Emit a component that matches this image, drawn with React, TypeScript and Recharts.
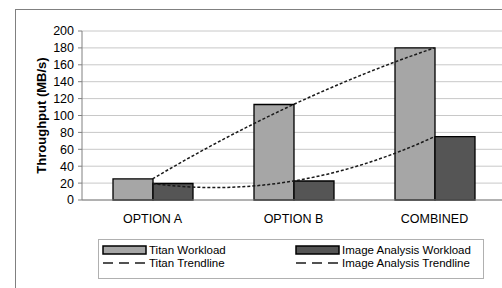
import { BarChart, Bar, Line, XAxis, YAxis, CartesianGrid } from "recharts";

const categories = ["OPTION A", "OPTION B", "COMBINED"];
const titanWorkload = [25, 113, 180];
const imageWorkload = [19.5, 22.5, 75];
const yTicks = [0, 20, 40, 60, 80, 100, 120, 140, 160, 180, 200];

const data = categories.map((name, i) => ({
  name,
  titan: titanWorkload[i],
  image: imageWorkload[i],
}));

// polynomial (order 2) trendline like the spreadsheet: parabola through 3 points
// drawn as a quadratic bezier, used as a d3-style curve factory
const polyCurve = (context: any) => {
  let pts: number[][] = [];
  return {
    areaStart() {},
    areaEnd() {},
    lineStart() {
      pts = [];
    },
    point(x: number, y: number) {
      pts.push([x, y]);
    },
    lineEnd() {
      if (pts.length === 0) return;
      context.moveTo(pts[0][0], pts[0][1]);
      if (pts.length === 3) {
        const [p0, p1, p2] = pts;
        const cx = 2 * p1[0] - (p0[0] + p2[0]) / 2;
        const cy = 2 * p1[1] - (p0[1] + p2[1]) / 2;
        context.quadraticCurveTo(cx, cy, p2[0], p2[1]);
      } else {
        pts.slice(1).forEach((p) => context.lineTo(p[0], p[1]));
      }
    },
  };
};

const font = "'Liberation Sans', Arial, sans-serif";
const titanFill = "#a6a6a6";
const imageFill = "#555555";
const trendColor = "#1a1a1a";

const legendItems = [
  { label: "Titan Workload", kind: "bar", color: titanFill },
  { label: "Image Analysis Workload", kind: "bar", color: imageFill },
  { label: "Titan Trendline", kind: "line", color: trendColor },
  { label: "Image Analysis Trendline", kind: "line", color: trendColor },
];

function LegendBox() {
  return (
    <div
      style={{
        position: "absolute",
        left: 98,
        top: 239,
        width: 386,
        height: 40,
        border: "1px solid #b0b0b0",
        background: "#fff",
        boxSizing: "border-box",
        fontFamily: font,
        fontSize: 11.5,
        color: "#000",
      }}
    >
      {legendItems.map((item, i) => (
        <div
          key={item.label}
          style={{
            position: "absolute",
            left: i % 2 === 0 ? 3 : 196,
            top: i < 2 ? 3.5 : 16.5,
            height: 13,
            lineHeight: "13px",
            display: "flex",
            alignItems: "center",
            whiteSpace: "nowrap",
          }}
        >
          <svg width={46} height={10} style={{ marginRight: 1 }}>
            {item.kind === "bar" ? (
              <rect x={1} y={1} width={43} height={8} fill={item.color} stroke="#000" strokeWidth={1.5} />
            ) : (
              <line x1={1} y1={5} x2={45} y2={5} stroke={item.color} strokeWidth={1.5} strokeDasharray="10 6" />
            )}
          </svg>
          {item.label}
        </div>
      ))}
    </div>
  );
}

export default function App() {
  return (
    <div
      style={{
        position: "absolute",
        left: 0,
        top: 0,
        width: 502,
        height: 288,
        overflow: "hidden",
        background: "#fff",
      }}
    >
      <div
        style={{
          position: "absolute",
          left: 15,
          top: 9,
          width: 600,
          height: 400,
          borderLeft: "1px solid #808080",
          borderTop: "1px solid #808080",
        }}
      />
      <div style={{ position: "absolute", left: 0, top: 0 }}>
        <BarChart
          width={510}
          height={288}
          data={data}
          margin={{ top: 31, right: 5, left: 0, bottom: 58 }}
          barCategoryGap="21%"
          barGap={0}
        >
          <CartesianGrid vertical={false} stroke="#c8c8c8" strokeWidth={1} />
          <XAxis
            dataKey="name"
            height={30}
            tick={{ fill: "#000", fontSize: 12.5, fontFamily: font }}
            tickLine={false}
            axisLine={{ stroke: "#808080" }}
            tickMargin={8}
          />
          <YAxis
            width={82}
            domain={[0, 200]}
            ticks={yTicks}
            interval={0}
            tick={{ fill: "#000", fontSize: 12.5, fontFamily: font }}
            tickLine={{ stroke: "#808080" }}
            tickSize={4}
            tickMargin={4}
            axisLine={{ stroke: "#808080" }}
            label={{
              value: "Throughput (MB/s)",
              angle: -90,
              position: "insideLeft",
              offset: 41,
              style: { fontSize: 13, fontWeight: "bold", fontFamily: font, fill: "#000", textAnchor: "middle" },
            }}
          />
          <Bar dataKey="titan" fill={titanFill} stroke="#000" strokeWidth={1.3} barSize={40} isAnimationActive={false} />
          <Bar dataKey="image" fill={imageFill} stroke="#000" strokeWidth={1.3} barSize={40} isAnimationActive={false} />
          <Line
            dataKey="titan"
            type={polyCurve as any}
            stroke={trendColor}
            strokeWidth={1.5}
            strokeDasharray="3 2"
            dot={false}
            activeDot={false}
            isAnimationActive={false}
          />
          <Line
            dataKey="image"
            type={polyCurve as any}
            stroke={trendColor}
            strokeWidth={1.5}
            strokeDasharray="3 2"
            dot={false}
            activeDot={false}
            isAnimationActive={false}
          />
        </BarChart>
      </div>
      <LegendBox />
    </div>
  );
}
